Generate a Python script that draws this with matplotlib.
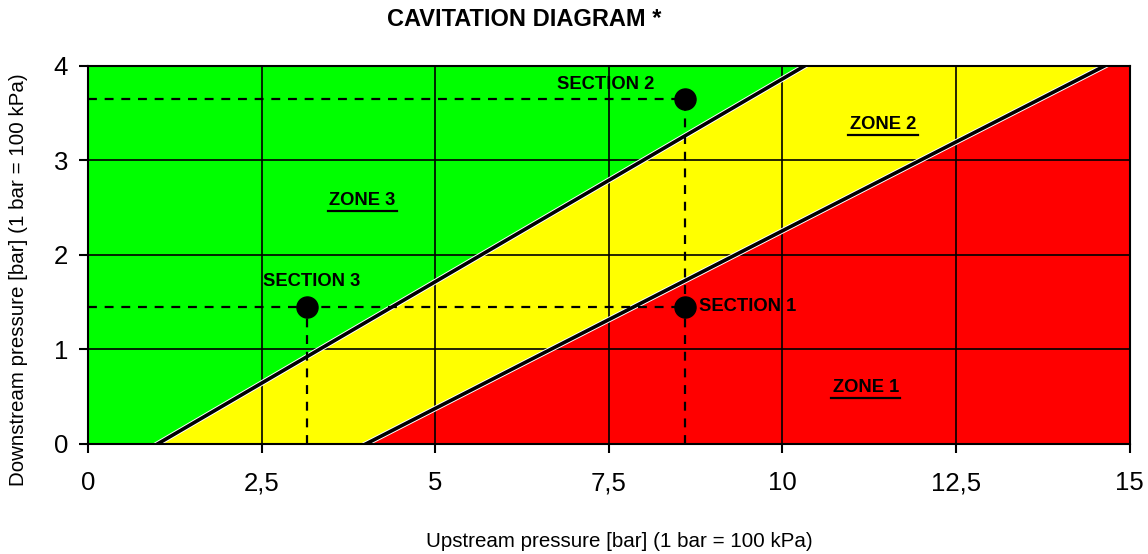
import matplotlib.pyplot as plt
import matplotlib.patheffects as pe

plt.rcParams['font.family'] = ['Liberation Sans', 'DejaVu Sans']

# boundary lines (upstream, downstream) end points
line_a_x = [1.0, 10.32]
line_b_x = [4.0, 14.64]
line_y = [0.0, 4.0]

# sections (upstream, downstream)
section_names = ['SECTION 1', 'SECTION 2', 'SECTION 3']
section_x = [8.6, 8.6, 3.15]
section_y = [1.45, 3.65, 1.45]

zone_names = ['ZONE 1', 'ZONE 2', 'ZONE 3']
zone_x = [11.2, 11.45, 3.95]
zone_y = [0.6, 3.38, 2.58]

x_ticks = [0, 2.5, 5, 7.5, 10, 12.5, 15]
x_tick_labels = ['0', '2,5', '5', '7,5', '10', '12,5', '15']
y_ticks = [0, 1, 2, 3, 4]

fig = plt.figure(figsize=(11.48, 5.54), dpi=100)
ax = fig.add_axes([0.0767, 0.1986, 0.9073, 0.6824])
ax.set_xlim(0, 15)
ax.set_ylim(0, 4)

# zones
ax.fill([0, 15, 15, 0], [0, 0, 4, 4], color='#00FF00', zorder=0, lw=0)
ax.fill([line_a_x[0], line_b_x[0], 15, 15, line_a_x[1]],
        [0, 0, 0, 4, 4], color='#FFFF00', zorder=0.5, lw=0)
ax.fill([line_b_x[0], 15, 15, line_b_x[1]], [0, 0, 4, 4],
        color='#FF0000', zorder=0.6, lw=0)

ax.set_xticks(x_ticks)
ax.set_xticklabels(x_tick_labels)
ax.set_yticks(y_ticks)
ax.grid(True, color='black', lw=1.2, zorder=1)
ax.set_axisbelow(False)
ax.tick_params(axis='both', direction='out', length=6.5, width=1.5,
               labelsize=18.5, color='black')
ax.tick_params(axis='x', pad=13)
ax.tick_params(axis='y', pad=8)
for s in ax.spines.values():
    s.set_linewidth(1.5)
    s.set_zorder(5)

# boundaries
for bx in (line_a_x, line_b_x):
    ax.plot(bx, line_y, color='black', lw=2.6, zorder=3,
            path_effects=[pe.Stroke(linewidth=4, foreground='white'), pe.Normal()])

# dashed guides
dash = dict(color='black', lw=1.6, ls=(0, (4, 3.5)), zorder=4)
ax.plot([0, section_x[0]], [section_y[0], section_y[0]], **dash)
ax.plot([0, section_x[1]], [section_y[1], section_y[1]], **dash)
ax.plot([section_x[1], section_x[1]], [0, section_y[1]], **dash)
ax.plot([section_x[2], section_x[2]], [0, section_y[2]], **dash)

ax.scatter(section_x, section_y, s=230, color='black', zorder=6)

ax.text(section_x[0] + 0.2, section_y[0], section_names[0], fontsize=13.2,
        fontweight='bold', ha='left', va='center', zorder=7)
ax.text(section_x[1] - 1.14, section_y[1] + 0.15, section_names[1], fontsize=13.2,
        fontweight='bold', ha='center', va='center', zorder=7)
ax.text(section_x[2] + 0.07, section_y[2] + 0.27, section_names[2], fontsize=13.2,
        fontweight='bold', ha='center', va='center', zorder=7)

for name, zx, zy in zip(zone_names, zone_x, zone_y):
    ax.text(zx, zy, name, fontsize=13.2, fontweight='bold', ha='center',
            va='center', zorder=7)
    # underline
    ax.plot([zx - 0.5, zx + 0.5], [zy - 0.11, zy - 0.11], color='black',
            lw=1.6, zorder=7)

fig.text(0.457, 0.964, 'CAVITATION DIAGRAM *', fontsize=17, fontweight='bold',
         ha='center', va='center')
ax.set_xlabel('Upstream pressure [bar] (1 bar = 100 kPa)', fontsize=14.8)
ax.set_ylabel('Downstream pressure [bar] (1 bar = 100 kPa)', fontsize=14.8)
ax.xaxis.set_label_coords(0.51, -0.259)
ax.yaxis.set_label_coords(-0.067, 0.434)
ax.xaxis.label.set_va('center')
ax.yaxis.label.set_va('center')

fig.savefig('out.png', dpi=100)
